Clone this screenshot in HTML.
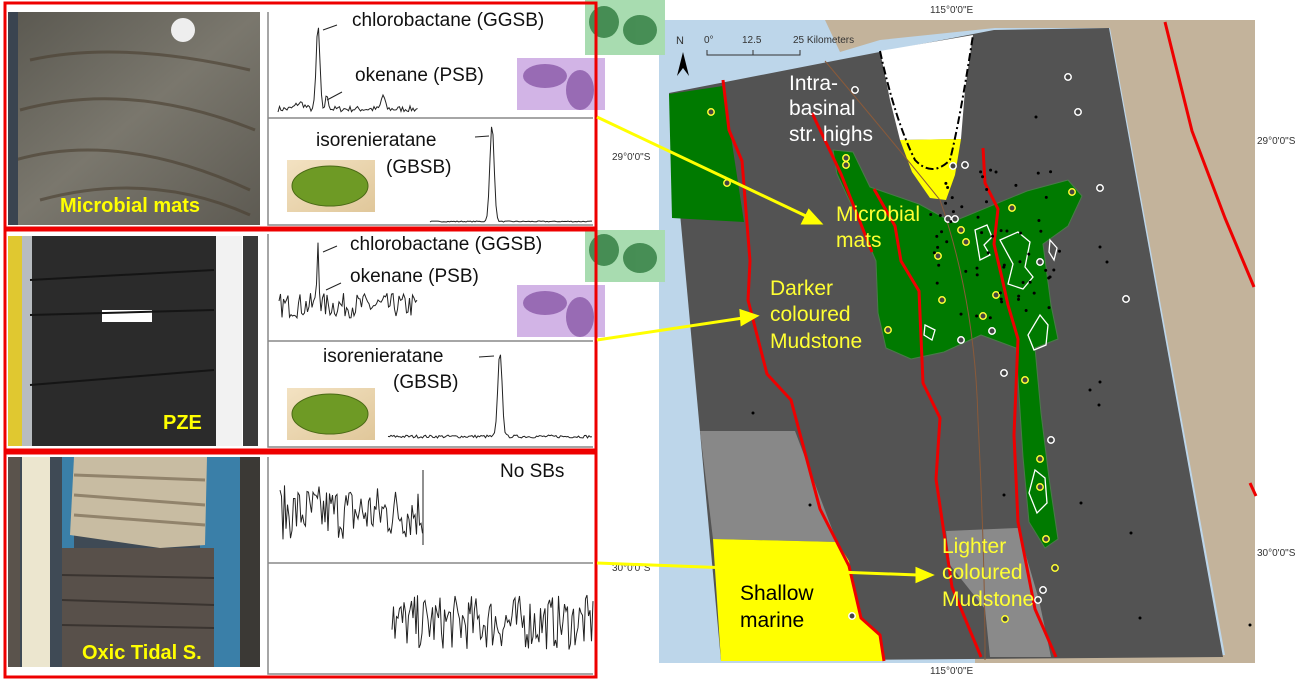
<!DOCTYPE html>
<html><head><meta charset="utf-8"><style>
html,body{margin:0;padding:0;background:#fff;}
svg{display:block;font-family:"Liberation Sans",sans-serif;}
</style></head><body>
<svg id="s" width="1299" height="681" viewBox="0 0 1299 681" xmlns="http://www.w3.org/2000/svg">
<defs>
<linearGradient id="p1" x1="0" y1="0" x2="1" y2="1"><stop offset="0" stop-color="#5a5850"/><stop offset="0.5" stop-color="#7a776d"/><stop offset="1" stop-color="#5d5a52"/></linearGradient>
<linearGradient id="gold" x1="0" y1="0" x2="1" y2="1"><stop offset="0" stop-color="#f3e2c2"/><stop offset="1" stop-color="#e0c79a"/></linearGradient>
</defs>
<!-- MAP -->
<rect x="659" y="20" width="596" height="643" fill="#bdd6ea"/>
<polygon points="825,20 1255,20 1255,663 975,663 975,655 1225,655 1110,28 995,28 880,40 840,52" fill="#c3b39b"/>
<polygon points="669,93 833,61 994,30 1109,28 1223,657 721,661" fill="#535353"/>
<polygon points="700,431 795,431 837,542 713,539" fill="#888"/>
<polygon points="713,539 837,542 849,561 861,618 880,635 884,661 721,661" fill="#ffff00"/>
<polygon points="946,531 1018,528 1039,600 1051,657 990,657 985,609 950,565" fill="#8a8a8a"/>
<polygon points="880,51 973,35 965,90 961,139 900,140 890,100" fill="#fff"/>
<polygon points="900,140 961,139 955,175 946,200 930,198 912,172" fill="#ffff00"/>
<path d="M880,51 Q895,120 915,160 Q932,178 950,160 Q960,120 973,35" fill="none" stroke="#000" stroke-width="2" stroke-dasharray="8,3,2,3"/>
<polygon points="669,94 723,86 730,130 744,222 672,218" fill="#007a00"/>
<path d="M833,150 L853,152 L870,187 L919,204 L952,222 L1027,191 L1068,180 L1082,196 L1068,226 L1043,244 L1051,305 L1058,339 L1035,348 L1041,413 L1049,478 L1058,539 L1045,548 L1029,522 L1023,457 L1016,348 L981,335 L944,352 L911,359 L886,348 L878,313 L876,261 L857,217 L837,174 Z" fill="#007a00" stroke="#4a7a4a" stroke-linejoin="round"/>
<path d="M825,61 Q900,150 940,200 Q975,300 978,420 Q985,560 985,660" fill="none" stroke="#8a5a3a" stroke-width="1"/>
<g fill="none" stroke="#ee0000" stroke-width="3" stroke-linejoin="round">
<polyline points="723,80 729,130 742,161 750,261 748,300 767,374 791,400 820,509 849,566 861,618 880,635 884,661"/>
<polyline points="812,113 841,174 872,252"/>
<polyline points="874,189 895,226 901,261 919,291 923,383 940,418 936,479 952,587 981,657"/>
<polyline points="983,148 985,183 998,209 994,244 1002,278 1008,305 1018,339 1014,435 1018,522 1035,609 1056,657"/>
<polyline points="1165,22 1192,131 1225,218 1254,287"/>
<polyline points="1250,483 1256,496"/>
</g>
<g fill="none" stroke="#fff" stroke-width="1.3">
<path d="M975,230 l12,-5 5,12 -8,8 6,10 -10,5 z"/>
<path d="M1000,240 l18,-8 12,10 -5,25 8,10 -10,12 -15,-5 5,-20 z"/>
<path d="M1040,315 l8,10 -2,20 -12,5 -6,-15 z"/>
<path d="M1035,470 l10,8 2,25 -10,10 -8,-20 z"/>
<path d="M925,325 l10,5 -3,10 -8,-5 z"/>
<path d="M1050,240 l7,8 -3,12 -5,-8 z"/>
</g>
<g id="dots"></g>
<g font-size="10" fill="#333"><text x="930" y="13">115°0'0"E</text><text x="930" y="674">115°0'0"E</text><text x="1257" y="144">29°0'0"S</text><text x="1257" y="556">30°0'0"S</text><text x="612" y="160">29°0'0"S</text><text x="612" y="571">30°0'0"S</text>
<text x="676" y="44" font-size="11">N</text><text x="704" y="43">0°</text><text x="742" y="43">12.5</text><text x="793" y="43">25 Kilometers</text></g>
<path d="M707,50 v5 h93 v-5 M753,50 v5" fill="none" stroke="#333"/>
<path d="M683,52 L677,76 L683,68 L689,76 Z" fill="#000"/>
<g font-size="21"><g fill="#fff"><text x="789" y="90">Intra-</text><text x="789" y="115">basinal</text><text x="789" y="141">str. highs</text></g>
<g fill="#ffff33"><text x="836" y="221">Microbial</text><text x="836" y="247">mats</text><text x="770" y="295">Darker</text><text x="770" y="321">coloured</text><text x="770" y="348">Mudstone</text><text x="942" y="553">Lighter</text><text x="942" y="579">coloured</text><text x="942" y="606">Mudstone</text></g>
<g fill="#000"><text x="740" y="600">Shallow</text><text x="740" y="627">marine</text></g></g>
<!-- LEFT PANELS -->
<rect x="8" y="12" width="252" height="213" fill="url(#p1)"/>
<g stroke="#4a3f30" stroke-width="3" fill="none" opacity="0.6"><path d="M30,60 Q120,40 250,70"/><path d="M20,110 Q130,80 255,130"/><path d="M15,160 Q120,130 250,190"/><path d="M40,200 Q150,170 250,215"/></g>
<rect x="8" y="12" width="10" height="213" fill="#3a4450"/>
<ellipse cx="183" cy="30" rx="12" ry="12" fill="#eee"/>
<rect x="8" y="236" width="208" height="210" fill="#2b2b2b"/>
<rect x="8" y="236" width="14" height="210" fill="#e0c830"/>
<rect x="22" y="236" width="10" height="210" fill="#b8bcc0"/>
<rect x="216" y="236" width="26" height="210" fill="#f2f2f2"/>
<rect x="243" y="236" width="15" height="210" fill="#3a3a3a"/>
<rect x="102" y="310" width="50" height="12" fill="#fff"/>
<g stroke="#151515" stroke-width="2"><line x1="30" y1="280" x2="214" y2="270"/><line x1="30" y1="315" x2="214" y2="310"/><line x1="30" y1="385" x2="214" y2="370"/></g>
<rect x="8" y="457" width="252" height="210" fill="#3f4a55"/>
<rect x="8" y="457" width="12" height="210" fill="#5a534c"/>
<rect x="22" y="457" width="28" height="210" fill="#ece6cf"/>
<rect x="62" y="457" width="12" height="210" fill="#3a7fa8"/>
<rect x="200" y="457" width="40" height="210" fill="#3a7fa8"/>
<rect x="240" y="457" width="20" height="210" fill="#3b3935"/>
<polygon points="74,457 207,457 205,545 160,548 70,535" fill="#c8bca2"/>
<g stroke="#7a6b55" stroke-width="3" opacity="0.7"><line x1="74" y1="475" x2="205" y2="480"/><line x1="74" y1="495" x2="205" y2="505"/><line x1="74" y1="515" x2="205" y2="525"/></g>
<rect x="62" y="548" width="152" height="119" fill="#58504a"/>
<g stroke="#3a3430" stroke-width="2"><line x1="62" y1="575" x2="214" y2="578"/><line x1="62" y1="600" x2="214" y2="605"/><line x1="62" y1="625" x2="214" y2="628"/></g>
<g font-size="20" font-weight="bold" fill="#ffff00"><text x="60" y="212">Microbial mats</text><text x="163" y="429">PZE</text><text x="82" y="659">Oxic Tidal S.</text></g>
<!-- chart frames -->
<g stroke="#888" stroke-width="1.5" fill="none">
<path d="M268,12 V225 H593 M268,118 H593"/>
<path d="M268,234 V447 H593 M268,341 H593"/>
<path d="M268,457 V674 H593 M268,563 H593"/>
</g>
<g id="traces" fill="none" stroke="#222" stroke-width="1"></g>
<g stroke="#222" stroke-width="1" fill="none"><path d="M323,30 L337,25 M327,100 L342,92 M475,137 L489,136 M323,252 L337,246 M326,290 L341,283 M479,357 L494,356"/></g>
<!-- bug images -->
<rect x="585" y="0" width="80" height="55" fill="#a8dcb0"/>
<rect x="585" y="230" width="80" height="52" fill="#a8dcb0"/>
<g fill="#2e7a3e" opacity="0.8"><ellipse cx="604" cy="22" rx="15" ry="16"/><ellipse cx="640" cy="30" rx="17" ry="15"/><ellipse cx="604" cy="250" rx="15" ry="16"/><ellipse cx="640" cy="258" rx="17" ry="15"/></g>
<rect x="517" y="58" width="88" height="52" fill="#d2b4e6"/>
<rect x="517" y="285" width="88" height="52" fill="#d2b4e6"/>
<g fill="#8a5aa8" opacity="0.8"><ellipse cx="545" cy="76" rx="22" ry="12"/><ellipse cx="580" cy="90" rx="14" ry="20"/><ellipse cx="545" cy="303" rx="22" ry="12"/><ellipse cx="580" cy="317" rx="14" ry="20"/></g>
<rect x="287" y="160" width="88" height="52" fill="url(#gold)"/>
<rect x="287" y="388" width="88" height="52" fill="url(#gold)"/>
<ellipse cx="330" cy="186" rx="38" ry="20" fill="#6e9a25" stroke="#4a6a15"/>
<ellipse cx="330" cy="414" rx="38" ry="20" fill="#6e9a25" stroke="#4a6a15"/>
<g font-size="19" fill="#111"><text x="352" y="26">chlorobactane (GGSB)</text><text x="355" y="81">okenane (PSB)</text><text x="316" y="146">isorenieratane</text><text x="386" y="173">(GBSB)</text>
<text x="350" y="250">chlorobactane (GGSB)</text><text x="350" y="282">okenane (PSB)</text><text x="323" y="362">isorenieratane</text><text x="393" y="388">(GBSB)</text><text x="500" y="477">No SBs</text></g>
<!-- red boxes -->
<g fill="none" stroke="#ee0000" stroke-width="3"><rect x="5" y="3" width="591" height="225"/><rect x="5" y="230" width="591" height="220"/><rect x="5" y="453" width="591" height="224"/></g>
<!-- arrows -->
<g stroke="#ffff00" stroke-width="3" fill="#ffff00">
<line x1="597" y1="117" x2="808" y2="217"/><polygon points="820,223 803,223 809,211"/>
<line x1="597" y1="340" x2="743" y2="318"/><polygon points="756,316 742,324 741,311"/>
<line x1="597" y1="563" x2="918" y2="575"/><polygon points="931,575 917,581 917,569"/>
</g>
</svg>
<script>
var ns="http://www.w3.org/2000/svg";
var seed=7;function r(){seed=(seed*16807)%2147483647;return seed/2147483647;}
function pl(pts){var p=document.createElementNS(ns,"polyline");p.setAttribute("points",pts.map(function(a){return a[0].toFixed(1)+","+a[1].toFixed(1)}).join(" "));document.getElementById("traces").appendChild(p);}
function trace(x0,x1,base,amp,peaks){var a=[];for(var x=x0;x<=x1;x+=1.5){var y=base-r()*amp;peaks.forEach(function(k){var d=(x-k[0])/k[2];y-=k[1]*Math.exp(-d*d);});a.push([x,y]);}pl(a);}
trace(278,418,112,6,[[318,84,2.5],[327,14,2],[383,14,2.5],[300,6,6]]);
trace(430,593,222,1,[[492,97,3]]);
trace(279,418,318,25,[[318,65,1.5]]);
trace(388,593,438,3,[[500,85,3]]);
trace(280,423,540,55,[]);
pl([[423,470],[423,545]]);
trace(392,593,650,55,[[393,25,1]]);
var g=document.getElementById("dots");
function c(x,y,col,rr){var e=document.createElementNS(ns,"circle");e.setAttribute("cx",x);e.setAttribute("cy",y);e.setAttribute("r",rr);if(col=="b"){e.setAttribute("fill","#000");}else{e.setAttribute("fill","#444");e.setAttribute("stroke",col);e.setAttribute("stroke-width","1.5");}g.appendChild(e);}
[[855,90],[1068,77],[1078,112],[953,166],[965,165],[948,219],[955,219],[961,340],[1126,299],[1004,373],[1051,440],[1043,590],[1038,600],[852,616],[1100,188],[1040,262],[992,331]].forEach(function(p){c(p[0],p[1],"#fff",3.2)});
[[711,112],[727,183],[846,158],[846,165],[888,330],[942,300],[938,256],[961,230],[966,242],[1012,208],[1072,192],[1055,568],[1005,619],[1025,380],[1046,539],[983,316],[996,295],[1040,459],[1040,487]].forEach(function(p){c(p[0],p[1],"#ffff33",3.2)});
for(var i=0;i<60;i++){c(930+r()*130,170+r()*150,"b",1.5);}
[[1036,117],[1100,247],[1107,262],[1090,390],[1100,382],[1099,405],[753,413],[810,505],[1004,495],[1081,503],[1131,533],[1140,618],[1250,625]].forEach(function(p){c(p[0],p[1],"b",1.5)});
</script>
</body></html>
